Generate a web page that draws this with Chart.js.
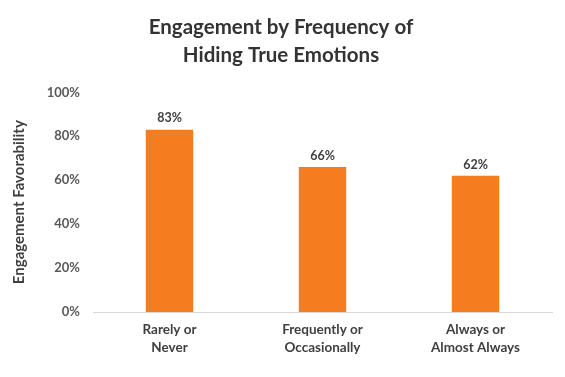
<!DOCTYPE html>
<html>
<head>
<meta charset="utf-8">
<script src="https://cdn.jsdelivr.net/npm/chart.js@4/dist/chart.umd.min.js"></script>
<style>
  html, body { margin: 0; padding: 0; background: #fff; }
  #wrap { width: 565px; height: 377px; }
</style>
</head>
<body>
<div id="wrap"><canvas id="engChart" width="565" height="377"></canvas></div>
<script>
const categories = [["Rarely or", "Never"], ["Frequently or", "Occasionally"], ["Always or", "Almost Always"]];
const favorability = [83, 66, 62];
const yTicks = [0, 20, 40, 60, 80, 100];

const fontFamily = "Lato, 'Open Sans', sans-serif";

// draws the % value above each bar
const barLabels = {
    id: "barLabels",
    afterDatasetsDraw(chart) {
        const ctx = chart.ctx;
        const meta = chart.getDatasetMeta(0);
        ctx.save();
        ctx.font = "bold 12.5px " + fontFamily;
        ctx.fillStyle = "#404040";
        ctx.textAlign = "center";
        ctx.textBaseline = "bottom";
        meta.data.forEach(function (bar, i) {
            ctx.fillText(favorability[i] + "%", bar.x, bar.y - 5);
        });
        ctx.restore();
    }
};

document.addEventListener("DOMContentLoaded", function () {
    const ctx = document.getElementById("engChart").getContext("2d");
    new Chart(ctx, {
        type: "bar",
        data: {
            labels: categories,
            datasets: [{
                label: "Engagement Favorability",
                data: favorability,
                backgroundColor: "#F47D20",
                barPercentage: 0.62,
                categoryPercentage: 0.5
            }]
        },
        options: {
            responsive: false,
            animation: false,
            layout: { padding: { left: 10, right: 13, top: 0, bottom: 0 } },
            plugins: {
                legend: { display: false },
                tooltip: { enabled: false },
                title: {
                    display: true,
                    text: ["Engagement by Frequency of", "Hiding True Emotions"],
                    color: "#333333",
                    font: { family: fontFamily, size: 20.5, weight: "bold", lineHeight: 1.35 },
                    padding: { top: 14, bottom: 23 }
                }
            },
            scales: {
                x: {
                    grid: { display: false, drawTicks: false },
                    border: { display: true, color: "#d9d9d9", width: 1 },
                    ticks: {
                        color: "#404040",
                        font: { family: fontFamily, size: 13.5, weight: "bold", lineHeight: 1.3 },
                        padding: 9,
                        maxRotation: 0
                    },
                    afterFit(scale) { scale.height = 65; }
                },
                y: {
                    min: 0,
                    max: 100,
                    afterBuildTicks(scale) {
                        scale.ticks = yTicks.map(v => ({ value: v }));
                    },
                    grid: { display: false, drawTicks: false },
                    border: { display: false },
                    ticks: {
                        color: "#595959",
                        font: { family: fontFamily, size: 13, weight: "bold" },
                        padding: 13,
                        callback: v => v + "%"
                    },
                    title: {
                        display: true,
                        text: "Engagement Favorability",
                        color: "#404040",
                        font: { family: fontFamily, size: 15, weight: "bold" },
                        padding: { top: 0, bottom: 0 }
                    },
                    afterFit(scale) { scale.width = 83; }
                }
            }
        },
        plugins: [barLabels]
    });
});
</script>
</body>
</html>
